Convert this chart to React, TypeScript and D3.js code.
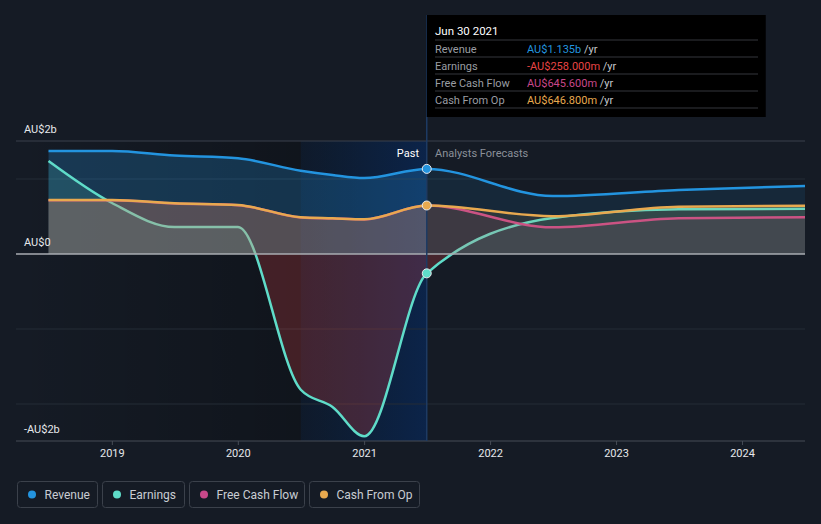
import React from "react";
import * as d3 from "d3";

const dates = ["2018-06-30","2018-12-31","2019-06-30","2019-12-31","2020-06-30","2020-09-30","2020-12-31","2021-06-30","2022-06-30","2023-06-30","2024-06-30"];
const revenue = [1.373, 1.373, 1.313, 1.276, 1.11, 1.053, 1.013, 1.135, 0.773, 0.855, 0.907];
const earnings = [1.24, 0.68, 0.36, 0.36, -1.81, -2.04, -2.43, -0.258, 0.48, 0.596, 0.604];
const freeCashFlow = [0.718, 0.718, 0.675, 0.651, 0.488, 0.474, 0.461, 0.6456, 0.356, 0.476, 0.49];
const cashFromOp = [0.72, 0.72, 0.677, 0.653, 0.49, 0.476, 0.463, 0.6468, 0.505, 0.631, 0.643];

const yearTicks = ["2019","2020","2021","2022","2023","2024"];
const seriesNames = ["Revenue","Earnings","Free Cash Flow","Cash From Op"];
const seriesColors = ["#2394df","#5fdcc9","#c8488a","#e8a94f"];
const tooltipDate = "Jun 30 2021";
const tooltipValues = ["AU$1.135b","-AU$258.000m","AU$645.600m","AU$646.800m"];
const tooltipValueColors = ["#2394df","#e84545","#c8488a","#e8a94f"];
const hoverDate = "2021-06-30";
const highlightStart = "2020-06-30";

const W = 821, H = 524;
const FONT = "Roboto, 'Noto Sans', sans-serif";

export default function App() {
  const parse = d3.timeParse("%Y-%m-%d");
  const ds = dates.map((d) => parse(d) as Date);
  const x = d3.scaleTime().domain([parse("2018-06-30") as Date, parse("2024-06-30") as Date]).range([48.5, 805]);
  const y = d3.scaleLinear().domain([-2.4933, 1.5067]).range([441, 141]);
  const xl = 16, xr = 805, yt = 141, yb = 441;
  const xh = x(parse(hoverDate) as Date);
  const xs = x(parse(highlightStart) as Date);
  const y0 = y(0);

  const mk = (vals: number[]) => vals.map((v, i) => ({ d: ds[i], v }));
  const line = d3.line<{ d: Date; v: number }>().x((p) => x(p.d)).y((p) => y(p.v)).curve(d3.curveMonotoneX);
  const area = d3.area<{ d: Date; v: number }>().x((p) => x(p.d)).y0(y0).y1((p) => y(p.v)).curve(d3.curveMonotoneX);

  const allSeries = [revenue, earnings, freeCashFlow, cashFromOp];
  const hoverIdx = dates.indexOf(hoverDate);
  const pastOp = [0.25, 0.15, 0.15, 0.2];
  const futOp = [0.115, 0.11, 0.11, 0.11];

  return (
    <svg width={W} height={H} style={{ position: "absolute", left: 0, top: 0, background: "#151b25", fontFamily: FONT }}>
      <defs>
        <clipPath id="clipPast"><rect x={0} y={0} width={xh} height={H} /></clipPath>
        <clipPath id="clipFut"><rect x={xh} y={0} width={W - xh} height={H} /></clipPath>
        <clipPath id="clipPos"><rect x={0} y={0} width={W} height={y0} /></clipPath>
        <clipPath id="clipNeg"><rect x={0} y={y0} width={W} height={H - y0} /></clipPath>
        <linearGradient id="pastShade" x1="0" x2="1" y1="0" y2="0">
          <stop offset="0" stopColor="#000" stopOpacity={0} />
          <stop offset="1" stopColor="#000" stopOpacity={0.35} />
        </linearGradient>
        <linearGradient id="hl" x1="0" x2="1" y1="0" y2="0">
          <stop offset="0" stopColor="#0b2a55" stopOpacity={0.25} />
          <stop offset="1" stopColor="#0b2a5a" stopOpacity={0.75} />
        </linearGradient>
      </defs>
      <rect x={0} y={0} width={W} height={H} fill="#151b25" />
      <rect x={xl} y={yt} width={xh - xl} height={yb - yt} fill="url(#pastShade)" />
      <rect x={xs} y={yt} width={xh - xs} height={yb - yt} fill="url(#hl)" />

      {[1, -1, -2].map((v) => (
        <line key={v} x1={xl} x2={xr} y1={y(v)} y2={y(v)} stroke="#252c37" strokeWidth={1} />
      ))}
      <line x1={xl} x2={xr} y1={yt} y2={yt} stroke="#3a414c" strokeWidth={1} />

      {allSeries.map((vals, si) => {
        const dPath = area(mk(vals)) || "";
        const parts: any[] = [];
        ([["clipPast", pastOp[si]], ["clipFut", futOp[si]]] as [string, number][]).forEach(([clip, op]) => {
          if (si === 1) {
            parts.push(
              <g key={`${clip}-p`} clipPath={`url(#${clip})`}>
                <path d={dPath} fill={seriesColors[si]} fillOpacity={op} clipPath="url(#clipPos)" />
              </g>
            );
            parts.push(
              <g key={`${clip}-n`} clipPath={`url(#${clip})`}>
                <path d={dPath} fill="#e84545" fillOpacity={0.24} clipPath="url(#clipNeg)" />
              </g>
            );
          } else {
            parts.push(
              <g key={clip} clipPath={`url(#${clip})`}>
                <path d={dPath} fill={seriesColors[si]} fillOpacity={op} />
              </g>
            );
          }
        });
        return (
          <g key={si}>
            {parts}
            <path d={line(mk(vals)) || ""} fill="none" stroke={seriesColors[si]} strokeWidth={2.5} />
          </g>
        );
      })}

      <line x1={xl} x2={xr} y1={y0} y2={y0} stroke="#a9acb2" strokeWidth={1.5} />

      <line x1={xl} x2={xr} y1={yb} y2={yb} stroke="#474d57" strokeWidth={1} />
      {yearTicks.map((t) => {
        const xx = x(parse(`${t}-01-01`) as Date);
        return (
          <g key={t}>
            <line x1={xx} x2={xx} y1={yb} y2={yb + 4} stroke="#474d57" />
            <text x={xx} y={457} textAnchor="middle" fill="#e6e8eb" fontSize={11}>{t}</text>
          </g>
        );
      })}

      <text x={24} y={133} fill="#e6e8eb" fontSize={11}>AU$2b</text>
      <text x={24} y={246} fill="#e6e8eb" fontSize={11}>AU$0</text>
      <text x={24} y={433} fill="#e6e8eb" fontSize={11}>-AU$2b</text>

      <text x={419} y={157} textAnchor="end" fill="#ffffff" fontSize={11}>Past</text>
      <text x={435} y={157} fill="#8b9099" fontSize={11}>Analysts Forecasts</text>

      <line x1={xh} x2={xh} y1={15} y2={yb} stroke="#1d3a63" strokeWidth={1.5} />

      {[0, 1, 3].map((si) => (
        <circle key={si} cx={xh} cy={y(allSeries[si][hoverIdx])} r={4.5} fill={seriesColors[si]} stroke="#e8eaee" strokeWidth={1} />
      ))}

      <rect x={xh} y={15} width={339} height={102} fill="#000000" />
      <text x={435} y={35} fill="#ffffff" fontSize={11.5}>{tooltipDate}</text>
      {[40, 57, 74, 91, 108].map((yy) => (
        <line key={yy} x1={435} x2={758} y1={yy} y2={yy} stroke="#34373c" strokeWidth={1} />
      ))}
      {seriesNames.map((n, i) => (
        <g key={n}>
          <text x={435} y={52.5 + i * 17} fill="#9a9da3" fontSize={11}>{n}</text>
          <text x={527} y={52.5 + i * 17} fontSize={11}>
            <tspan fill={tooltipValueColors[i]}>{tooltipValues[i]}</tspan>
            <tspan fill="#c5c8cd"> /yr</tspan>
          </text>
        </g>
      ))}

      {(() => {
        const boxes = [[17, 80], [102, 82], [189, 115], [309, 110]];
        return seriesNames.map((n, i) => (
          <g key={n}>
            <rect x={boxes[i][0] + 0.5} y={481.5} width={boxes[i][1]} height={26} rx={3} fill="none" stroke="#3b414b" />
            <circle cx={boxes[i][0] + 15} cy={494.5} r={4} fill={seriesColors[i]} />
            <text x={boxes[i][0] + 27.5} y={498.5} fill="#c9cdd3" fontSize={12}>{n}</text>
          </g>
        ));
      })()}
    </svg>
  );
}
